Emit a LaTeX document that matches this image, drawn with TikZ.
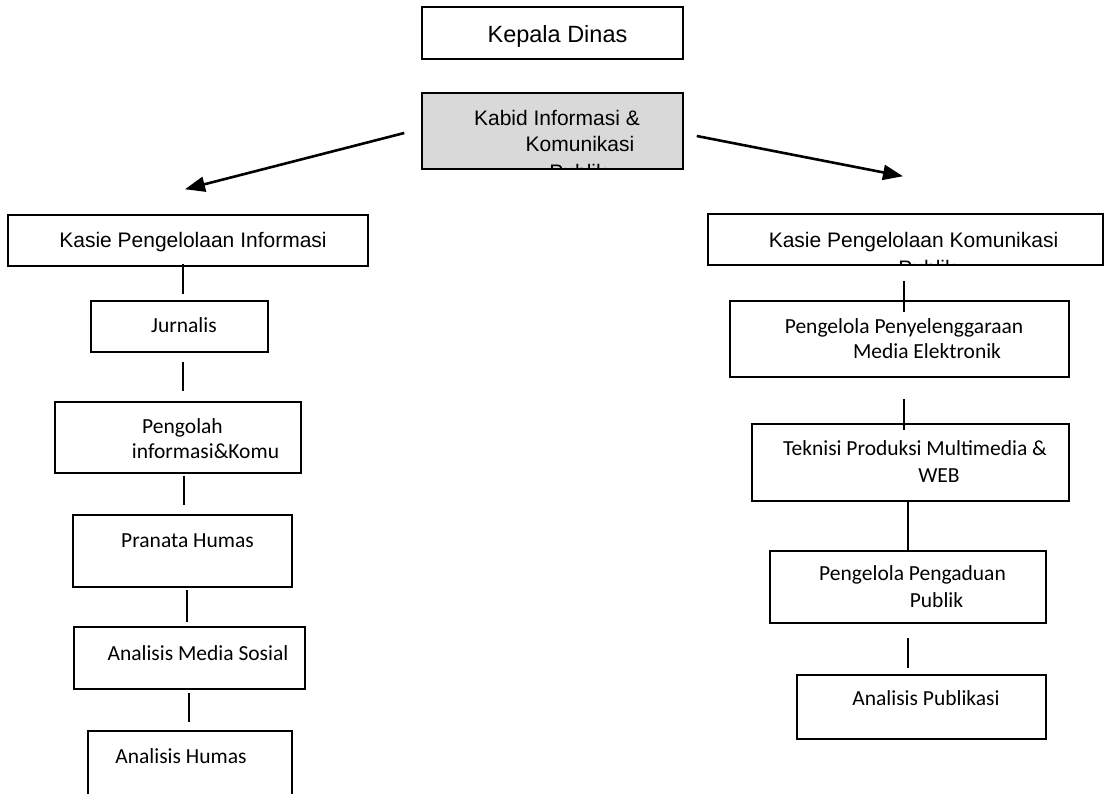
\documentclass[tikz,border=0pt]{standalone}
\usepackage{fontspec}
\setmainfont{Liberation Sans}
\newfontfamily\lowfont{Carlito}
\usepackage{tikz}
\usetikzlibrary{arrows.meta}
\definecolor{boxgray}{HTML}{D9D9D9}

\begin{document}
\begin{tikzpicture}[x=1pt,y=-1pt,
  unit/.style={draw,line width=1.5pt,inner sep=0pt},
  toptext/.style={font=\fontsize{21}{25}\selectfont,inner sep=0pt,anchor=base},
  lowtext/.style={font=\lowfont\fontsize{21.5}{26}\selectfont,inner sep=0pt,anchor=base},
  link/.style={line width=1.4pt},
  pointer/.style={line width=2.6pt,-{Triangle[length=20pt,width=15pt]}}]
\useasboundingbox (0,0) rectangle (1105,793);
\clip (0,0) rectangle (1105,793);

% top of the chart
\node[unit,minimum width=261pt,minimum height=52pt] (kadis) at (552.5,33) {};
\node[unit,fill=boxgray,minimum width=261pt,minimum height=76pt] (kabid) at (552.5,131) {};
\node[toptext,font=\fontsize{23.5}{28}\selectfont] (kadistxt) at (557.5,42) {Kepala Dinas};
\node[toptext] (kabidtxta) at (557,125) {Kabid Informasi \&};
\node[toptext] (kabidtxtb) at (580,151) {Komunikasi};
\begin{scope}
\clip (kabid.north west) rectangle (kabid.south east);
\node[toptext] (kabidtxtc) at (578,179) {Publik};
\end{scope}

% the two sections
\node[unit,minimum width=360pt,minimum height=51pt] (kasieinfo) at (188,240.5) {};
\node[unit,minimum width=395pt,minimum height=51pt] (kasiekom) at (905.5,239.5) {};
\node[toptext] (kasieinfotxt) at (193,247) {Kasie Pengelolaan Informasi};
\node[toptext] (kasiekomtxta) at (913.5,247) {Kasie Pengelolaan Komunikasi};
\begin{scope}
\clip (kasiekom.north west) rectangle (kasiekom.south east);
\node[toptext] (kasiekomtxtb) at (927,275) {Publik};
\end{scope}

\draw[pointer] (kabid.west) ++(-17,2) -- ([xshift=-3pt,yshift=25pt]kasieinfo.north);
\draw[pointer] (kabid.east) ++(13,5) -- ([xshift=-2.5pt,yshift=37pt]kasiekom.north);

% left column
\node[unit,minimum width=177pt,minimum height=51pt] (jurnalis) at (179.5,326.5) {};
\node[unit,minimum width=246pt,minimum height=71pt] (pengolah) at (178,437.5) {};
\node[unit,minimum width=219pt,minimum height=72pt] (pranata) at (182.5,551) {};
\node[unit,minimum width=231pt,minimum height=62pt] (medsos) at (189.5,658) {};
\node[unit,minimum width=204pt,minimum height=84pt] (humas) at (190,773) {};
\node[lowtext] (jurnalistxt) at (184,332) {Jurnalis};
\node[lowtext] (pengolahtxta) at (182.5,433) {Pengolah};
\node[lowtext] (pengolahtxtb) at (205.5,458) {informasi\&Komu};
\node[lowtext] (pranatatxt) at (187.5,547) {Pranata Humas};
\node[lowtext] (medsostxt) at (198,660) {Analisis Media Sosial};
\node[lowtext] (humastxt) at (181,763) {Analisis Humas};

\draw[link] (kasieinfo.south) ++(-5,-3) -- ++(0,30);
\draw[link] (jurnalis.south) ++(3.5,9) -- ++(0,29);
\draw[link] (pengolah.south) ++(6,2) -- ++(0,29);
\draw[link] (pranata.south) ++(4.5,2) -- ++(0,32);
\draw[link] (medsos.south) ++(-0.5,3) -- ++(0,29);

% right column
\node[unit,minimum width=339pt,minimum height=76pt] (elektronik) at (899.5,339) {};
\node[unit,minimum width=317pt,minimum height=77pt] (teknisi) at (910.5,462.5) {};
\node[unit,minimum width=276pt,minimum height=72pt] (pengaduan) at (908,587) {};
\node[unit,minimum width=249pt,minimum height=64pt] (publikasi) at (921.5,707) {};
\node[lowtext] (elektroniktxta) at (904,333) {Pengelola Penyelenggaraan};
\node[lowtext] (elektroniktxtb) at (927,358) {Media Elektronik};
\node[lowtext] (teknisitxta) at (915,455) {Teknisi Produksi Multimedia \&};
\node[lowtext] (teknisitxtb) at (939,482) {WEB};
\node[lowtext] (pengaduantxta) at (912.5,580) {Pengelola Pengaduan};
\node[lowtext] (pengaduantxtb) at (936.5,607) {Publik};
\node[lowtext] (publikasitxt) at (926,705) {Analisis Publikasi};

\draw[link] (kasiekom.south) ++(-1.5,15) -- ++(0,31);
\draw[link] (elektronik.south) ++(4.5,21) -- ++(0,31);
\draw[link] (teknisi.south) ++(-2.5,0) -- ++(0,49);
\draw[link] (pengaduan.south) ++(0,14) -- ++(0,30);
\end{tikzpicture}
\end{document}
